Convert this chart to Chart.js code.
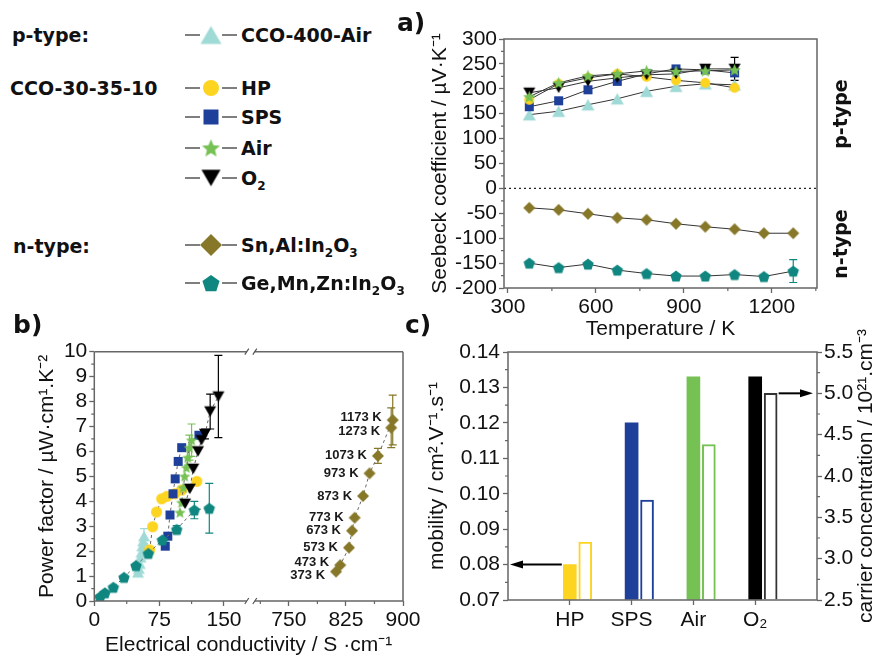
<!DOCTYPE html>
<html>
<head>
<meta charset="utf-8">
<title>Seebeck coefficient, power factor, mobility</title>
<script src="https://cdn.jsdelivr.net/npm/chart.js@4.4.1/dist/chart.umd.min.js"></script>
<style>
  html, body { margin:0; padding:0; background:#fff; }
  #fig { position:relative; width:877px; height:660px; overflow:hidden; background:#fff; }
  #fig canvas.chart { position:absolute; }
  .t { position:absolute; white-space:nowrap; line-height:1; color:#111; transform:translateY(-50%); }
  .b { font-family:"DejaVu Sans", Verdana, sans-serif; font-weight:bold; font-size:19px; }
  .panel { font-family:"DejaVu Sans", Verdana, sans-serif; font-weight:bold; font-size:25px; }
  .rot { transform:translate(-50%,-50%) rotate(-90deg); }
  sub { font-size:12px; vertical-align:-5px; line-height:0; }
  canvas.sym { position:absolute; }
</style>
</head>
<body>
<div id="fig">
  <canvas id="cA" class="chart" width="497" height="330" style="left:380px;top:20px"></canvas>
  <canvas id="cB" class="chart" width="430" height="330" style="left:0px;top:330px"></canvas>
  <canvas id="cC" class="chart" width="457" height="340" style="left:420px;top:320px"></canvas>
</div>
<script>
// ================= DATA =================
// panel a: Seebeck coefficient (µV/K) vs temperature (K)
const tempK = [373, 473, 573, 673, 773, 873, 973, 1073, 1173, 1273];
const seebeckCCO400 = [148, 155, 168, 180, 195, 205, 210, 208];
const seebeckHP     = [178, 210, 222, 230, 224, 217, 212, 202];
const seebeckSPS    = [164, 176, 198, 215, 230, 240, 238, 232];
const seebeckAir    = [184, 212, 226, 230, 236, 235, 236, 238];
const seebeckO2     = [192, 202, 215, 222, 228, 230, 240, 240];
const seebeckSnAl   = [-39, -43, -51, -59, -63, -71, -77, -82, -90, -90];
const seebeckGeMnZn = [-150, -159, -152, -164, -171, -176, -176, -173, -177, -166];
const seebeckErrO2     = [0, 0, 0, 0, 0, 0, 0, 23];
const seebeckErrGeMnZn = [0, 0, 0, 0, 0, 0, 0, 0, 0, 23];

// panel b: power factor (µW cm^-1 K^-2) vs electrical conductivity (S/cm)
const condCCO400 = [50.5, 51.5, 52.5, 53.5, 54.5, 55.5, 56.5, 57.5];
const pfCCO400   = [1.15, 1.3, 1.5, 1.75, 1.95, 2.2, 2.4, 2.6];
const pfErrCCO400 = [0, 0, 0, 0, 0, 0, 0, 0.3];
const condHP = [64, 67.5, 72, 78, 84, 93, 101, 118.5];
const pfHP   = [2.05, 2.98, 3.57, 4.1, 4.2, 4.3, 4.45, 4.8];
const condSPS = [82, 85, 87.5, 91, 93.5, 97, 101, 121];
const pfSPS   = [2.2, 2.6, 3.45, 4.3, 4.9, 5.6, 6.15, 6.65];
const condAir = [99, 101, 103, 104.5, 106.5, 108, 110, 112.5];
const pfAir   = [3.55, 3.95, 4.55, 5.0, 5.35, 5.75, 6.15, 6.45];
const pfErrAir = [0, 0, 0, 0, 0, 0.3, 0.5, 0.65];
const condO2 = [105, 110.5, 114.5, 120, 124, 128, 134, 143.5];
const pfO2   = [3.9, 4.5, 5.3, 6.0, 6.45, 6.7, 7.6, 8.2];
const pfErrO2 = [0, 0, 0, 0, 0, 0.2, 0.7, 1.65];
const condSnAl = [812, 817.5, 829, 833, 836.5, 847.5, 856, 867, 886.5, 884.5];
const pfSnAl   = [1.18, 1.44, 2.14, 2.82, 3.34, 4.21, 5.12, 5.82, 7.26, 6.95];
const pfErrSnAl = [0, 0, 0, 0, 0, 0, 0, 0.3, 1.0, 0.8];
const condGeMnZn = [6.6, 12.3, 22, 34.3, 48.2, 62.5, 78.7, 95.3, 115.7, 133];
const pfGeMnZn   = [0.17, 0.33, 0.55, 0.95, 1.42, 1.91, 2.45, 2.87, 3.65, 3.72];
const pfErrGeMnZn = [0, 0, 0, 0, 0, 0, 0, 0.15, 0.35, 1.0];

// panel c: mobility (left) and carrier concentration (right)
const samplesC  = ['HP', 'SPS', 'Air', 'O₂'];
const mobilityC = [0.080, 0.120, 0.133, 0.133];
const carrierC  = [3.20, 3.71, 4.38, 5.00];

// tick labels
const ticksAx = [300, 600, 900, 1200];
const ticksAy = [-200, -150, -100, -50, 0, 50, 100, 150, 200, 250, 300];
const ticksBx1 = [0, 75, 150];
const ticksBx2 = [750, 825, 900];
const ticksBy = [0, 1, 2, 3, 4, 5, 6, 7, 8, 9, 10];
const ticksCyL = [0.07, 0.08, 0.09, 0.10, 0.11, 0.12, 0.13, 0.14];
const ticksCyR = [2.5, 3.0, 3.5, 4.0, 4.5, 5.0, 5.5];

// ================= STYLE =================
const COL = { cyan:'#9fdad6', yellow:'#fdd420', blue:'#1e3f9a', green:'#76c154',
              black:'#000000', olive:'#877829', teal:'#0f8780', axis:'#666666' };
const FONT = "'Liberation Sans', Arial, Helvetica, sans-serif";
Chart.defaults.font.family = FONT;
Chart.defaults.font.size = 21;
Chart.defaults.color = '#111';

function marker(shape, color, size) {
  const s = Math.ceil(size) + 2;
  const c = document.createElement('canvas');
  c.width = s; c.height = s;
  const g = c.getContext('2d');
  const cx = s / 2, cy = s / 2, r = size / 2;
  g.fillStyle = color;
  g.beginPath();
  if (shape === 'circle') g.arc(cx, cy, r, 0, Math.PI * 2);
  else if (shape === 'square') g.rect(cx - r, cy - r, 2 * r, 2 * r);
  else if (shape === 'triangle') { const h = r * 0.866; g.moveTo(cx, cy - h); g.lineTo(cx + r, cy + h); g.lineTo(cx - r, cy + h); }
  else if (shape === 'tridown') { const h = r * 0.866; g.moveTo(cx, cy + h); g.lineTo(cx + r, cy - h); g.lineTo(cx - r, cy - h); }
  else if (shape === 'diamond') { g.moveTo(cx, cy - r); g.lineTo(cx + r, cy); g.lineTo(cx, cy + r); g.lineTo(cx - r, cy); }
  else if (shape === 'pentagon') {
    for (let i = 0; i < 5; i++) { const a = -Math.PI / 2 + i * 2 * Math.PI / 5;
      const px = cx + r * Math.cos(a), py = cy + r * Math.sin(a) + r * 0.1; i ? g.lineTo(px, py) : g.moveTo(px, py); }
  } else if (shape === 'star') {
    for (let i = 0; i < 10; i++) { const a = -Math.PI / 2 + i * Math.PI / 5; const rr = i % 2 ? r * 0.45 : r;
      const px = cx + rr * Math.cos(a), py = cy + rr * Math.sin(a) + r * 0.08; i ? g.lineTo(px, py) : g.moveTo(px, py); }
  }
  g.closePath(); g.fill();
  return c;
}

function series(label, xs, ys, shape, color, size, extra) {
  return Object.assign({
    label, data: ys.map((y, i) => ({ x: xs[i], y })),
    showLine: true, borderColor: '#333', borderWidth: 1, tension: 0,
    pointStyle: marker(shape, color, size), pointRadius: size / 2, pointHoverRadius: size / 2,
    backgroundColor: color
  }, extra || {});
}

function axis(o) {
  const horiz = o.pos === 'bottom' || o.pos === 'top';
  const a = {
    type: 'linear', position: o.pos, min: o.min, max: o.max, offset: false,
    afterBuildTicks: s => { s.ticks = o.ticks.map(v => ({ value: v })); },
    afterFit: s => { if (horiz) s.height = o.fixed; else s.width = o.fixed; },
    ticks: { autoSkip: false, maxRotation: 0, minRotation: 0, padding: o.pad ?? 2, color: '#111',
             font: { size: 21 }, callback: (v, i) => o.fmt(v, i) },
    grid: { display: true, drawOnChartArea: false, drawTicks: true, tickLength: 5,
            tickColor: COL.axis, tickWidth: 1.3, color: COL.axis, offset: false },
    border: { display: false },
    title: o.title ? { display: true, text: o.title, padding: 0, font: { size: 21 }, color: '#111' } : { display: false }
  };
  if (o.stack) { a.stack = o.stack; a.stackWeight = o.weight; }
  return a;
}

function minorVals(major) {
  const out = [];
  for (let i = 0; i < major.length - 1; i++) out.push((major[i] + major[i + 1]) / 2);
  return out;
}

function drawMinor(ctx, chart, scaleId, vals, side) {
  const s = chart.scales[scaleId], ca = chart.chartArea, len = 3;
  ctx.save(); ctx.strokeStyle = COL.axis; ctx.lineWidth = 1.2; ctx.beginPath();
  vals.forEach(v => {
    if (v < s.min || v > s.max) return;
    const p = s.getPixelForValue(v);
    if (side === 'bottom') { ctx.moveTo(p, ca.bottom); ctx.lineTo(p, ca.bottom + len); }
    else if (side === 'left') { ctx.moveTo(ca.left - len, p); ctx.lineTo(ca.left, p); }
    else { ctx.moveTo(ca.right, p); ctx.lineTo(ca.right + len, p); }
  });
  ctx.stroke(); ctx.restore();
}

function drawErrors(chart, list) {
  const ctx = chart.ctx;
  list.forEach(e => {
    const meta = chart.getDatasetMeta(e.ds);
    const xs = chart.scales[meta.xAxisID], ys = chart.scales[meta.yAxisID];
    const data = chart.data.datasets[e.ds].data;
    ctx.save(); ctx.strokeStyle = e.color; ctx.lineWidth = 1.2; ctx.beginPath();
    e.err.forEach((er, i) => {
      if (!er) return;
      const p = data[i], px = xs.getPixelForValue(p.x);
      const y1 = ys.getPixelForValue(p.y + er), y2 = ys.getPixelForValue(p.y - er);
      ctx.moveTo(px, y1); ctx.lineTo(px, y2);
      ctx.moveTo(px - 4, y1); ctx.lineTo(px + 4, y1);
      ctx.moveTo(px - 4, y2); ctx.lineTo(px + 4, y2);
    });
    ctx.stroke(); ctx.restore();
  });
}

function frame(ctx, ca, gapX) {
  ctx.save(); ctx.strokeStyle = COL.axis; ctx.lineWidth = 1.5; ctx.beginPath();
  if (gapX == null) { ctx.rect(ca.left, ca.top, ca.right - ca.left, ca.bottom - ca.top); }
  else {
    [ca.top, ca.bottom].forEach(y => {
      ctx.moveTo(ca.left, y); ctx.lineTo(gapX - 4, y);
      ctx.moveTo(gapX + 4, y); ctx.lineTo(ca.right, y);
    });
    ctx.moveTo(ca.left, ca.top); ctx.lineTo(ca.left, ca.bottom);
    ctx.moveTo(ca.right, ca.top); ctx.lineTo(ca.right, ca.bottom);
  }
  ctx.stroke();
  if (gapX != null) {
    ctx.lineWidth = 1.2; ctx.strokeStyle = '#555'; ctx.beginPath();
    [ca.top, ca.bottom].forEach(y => {
      ctx.moveTo(gapX - 6, y + 3); ctx.lineTo(gapX - 2, y - 3);
      ctx.moveTo(gapX + 2, y + 3); ctx.lineTo(gapX + 6, y - 3);
    });
    ctx.stroke();
  }
  ctx.restore();
}

function arrow(ctx, x0, y, x1) {
  const dir = Math.sign(x1 - x0), head = 13, hw = 4;
  ctx.save(); ctx.strokeStyle = '#000'; ctx.fillStyle = '#000'; ctx.lineWidth = 2;
  ctx.beginPath(); ctx.moveTo(x0, y); ctx.lineTo(x1 - dir * head, y); ctx.stroke();
  ctx.beginPath(); ctx.moveTo(x1, y); ctx.lineTo(x1 - dir * head, y - hw); ctx.lineTo(x1 - dir * head, y + hw);
  ctx.closePath(); ctx.fill(); ctx.restore();
}

const baseOpts = {
  animation: false, responsive: false, maintainAspectRatio: false, events: [],
  plugins: { legend: { display: false }, tooltip: { enabled: false } }
};

// ================= PANEL A =================
const dsA = [
  series('Air', tempK, seebeckAir, 'star', COL.green, 13),
  series('O2', tempK, seebeckO2, 'tridown', COL.black, 12),
  series('HP', tempK, seebeckHP, 'circle', COL.yellow, 10),
  series('SPS', tempK, seebeckSPS, 'square', COL.blue, 9),
  series('CCO-400-Air', tempK, seebeckCCO400, 'triangle', COL.cyan, 13),
  series('Sn,Al:In2O3', tempK, seebeckSnAl, 'diamond', COL.olive, 12),
  series('Ge,Mn,Zn:In2O3', tempK, seebeckGeMnZn, 'pentagon', COL.teal, 12)
];
new Chart(document.getElementById('cA'), {
  type: 'scatter',
  data: { datasets: dsA },
  options: Object.assign({}, baseOpts, {
    layout: { padding: { left: 48, right: 60, top: 19, bottom: 8 } },
    scales: {
      x: axis({ min: 286.7, max: 1354, ticks: ticksAx, fmt: v => String(v), pos: 'bottom', fixed: 54,
                title: 'Temperature / K' }),
      y: axis({ min: -200, max: 300, ticks: ticksAy, fmt: v => String(v), pos: 'left', fixed: 76,
                title: 'Seebeck coefficient / µV·K⁻¹' })
    }
  }),
  plugins: [{
    id: 'decorA',
    beforeDatasetsDraw(chart) {
      const ctx = chart.ctx, ca = chart.chartArea, y0 = chart.scales.y.getPixelForValue(0);
      ctx.save(); ctx.strokeStyle = '#222'; ctx.lineWidth = 1.2; ctx.setLineDash([2, 3]);
      ctx.beginPath(); ctx.moveTo(ca.left, y0); ctx.lineTo(ca.right, y0); ctx.stroke(); ctx.restore();
      drawErrors(chart, [{ ds: 1, err: seebeckErrO2, color: COL.black }, { ds: 6, err: seebeckErrGeMnZn, color: COL.teal }]);
    },
    afterDraw(chart) {
      const ctx = chart.ctx;
      frame(ctx, chart.chartArea);
      drawMinor(ctx, chart, 'x', [450, 750, 1050, 1350], 'bottom');
      drawMinor(ctx, chart, 'y', minorVals(ticksAy), 'left');
    }
  }]
});

// ================= PANEL B =================
function lineB(xid) { return { xAxisID: xid, yAxisID: 'y', borderDash: [3, 3], borderColor: '#666', borderWidth: 1 }; }
const dsB = [
  series('O2', condO2, pfO2, 'tridown', COL.black, 12, lineB('x1')),
  series('Air', condAir, pfAir, 'star', COL.green, 12, lineB('x1')),
  series('Ge,Mn,Zn:In2O3', condGeMnZn, pfGeMnZn, 'pentagon', COL.teal, 12, lineB('x1')),
  series('SPS', condSPS, pfSPS, 'square', COL.blue, 9, lineB('x1')),
  series('HP', condHP, pfHP, 'circle', COL.yellow, 11, lineB('x1')),
  series('CCO-400-Air', condCCO400, pfCCO400, 'triangle', COL.cyan, 12, lineB('x1')),
  series('Sn,Al:In2O3', condSnAl, pfSnAl, 'diamond', COL.olive, 12, lineB('x2'))
];
new Chart(document.getElementById('cB'), {
  type: 'scatter',
  data: { datasets: dsB },
  options: Object.assign({}, baseOpts, {
    layout: { padding: { left: 35, right: 27, top: 21.7, bottom: 0 } },
    scales: {
      x1: axis({ min: 0, max: 181, ticks: ticksBx1, fmt: v => String(v), pos: 'bottom', fixed: 59,
                 stack: 'bx', weight: 156.5 }),
      x2: axis({ min: 700, max: 900, ticks: ticksBx2, fmt: v => String(v), pos: 'bottom', fixed: 59,
                 stack: 'bx', weight: 152.2 }),
      y: axis({ min: 0, max: 10, ticks: ticksBy, fmt: v => String(v), pos: 'left', fixed: 59.3,
                title: 'Power factor / µW·cm¹.K⁻²' })
    }
  }),
  plugins: [{
    id: 'decorB',
    beforeDatasetsDraw(chart) {
      drawErrors(chart, [
        { ds: 0, err: pfErrO2, color: COL.black }, { ds: 1, err: pfErrAir, color: COL.green },
        { ds: 2, err: pfErrGeMnZn, color: COL.teal }, { ds: 5, err: pfErrCCO400, color: COL.cyan },
        { ds: 6, err: pfErrSnAl, color: COL.olive }]);
    },
    afterDraw(chart) {
      const ctx = chart.ctx, ca = chart.chartArea;
      frame(ctx, ca, chart.scales.x1.right);
      drawMinor(ctx, chart, 'x1', [37.5, 112.5], 'bottom');
      drawMinor(ctx, chart, 'x2', [712.5, 787.5, 862.5], 'bottom');
      drawMinor(ctx, chart, 'y', minorVals(ticksBy), 'left');
      // x title
      ctx.save(); ctx.fillStyle = '#111'; ctx.font = '21px ' + FONT; ctx.textAlign = 'center'; ctx.textBaseline = 'middle';
      ctx.fillText('Electrical conductivity / S ·cm⁻¹', (ca.left + ca.right) / 2, 315);
      // temperature labels for Sn,Al:In2O3
      const meta = chart.getDatasetMeta(6);
      ctx.font = 'bold 13px ' + FONT; ctx.textAlign = 'right'; ctx.fillStyle = '#1a1a1a';
      const dy = [4, -3, 0, 0, 0, 0, 0, 0, -3, 4];
      meta.data.forEach((pt, i) => {
        ctx.fillText(tempK[i] + ' K', pt.x - 11, pt.y + dy[i]);
      });
      ctx.restore();
    }
  }]
});

// ================= PANEL C =================
const barCols = [COL.yellow, COL.blue, COL.green, COL.black];
const hollowCols = [COL.yellow, COL.blue, COL.green, '#333'];
new Chart(document.getElementById('cC'), {
  type: 'bar',
  data: { datasets: [
    { label: 'mobility', data: mobilityC.map((v, i) => ({ x: i + 1, y: v })), yAxisID: 'y',
      backgroundColor: barCols, borderWidth: 0, barThickness: 13, grouped: false, base: 0.07 },
    { label: 'carrier concentration', data: carrierC.map((v, i) => ({ x: i + 1.25, y: v })), yAxisID: 'y2',
      backgroundColor: '#ffffff', borderColor: hollowCols, borderWidth: 2, barThickness: 13, grouped: false, base: 2.5 }
  ] },
  options: Object.assign({}, baseOpts, {
    layout: { padding: { left: 4.4, right: 0, top: 32, bottom: 0 } },
    scales: {
      x: axis({ min: 0, max: 5, ticks: samplesC.map((_, i) => i + 1), fmt: (v, i) => samplesC[i],
                pos: 'bottom', fixed: 60, pad: 3 }),
      y: axis({ min: 0.07, max: 0.14, ticks: ticksCyL, fmt: v => v.toFixed(2), pos: 'left', fixed: 83.6,
                pad: 3, title: 'mobility / cm².V⁻¹.s⁻¹' }),
      y2: axis({ min: 2.5, max: 5.5, ticks: ticksCyR, fmt: v => v.toFixed(1), pos: 'right', fixed: 60, pad: 2 })
    }
  }),
  plugins: [{
    id: 'decorC',
    afterDraw(chart) {
      const ctx = chart.ctx, ca = chart.chartArea, sx = chart.scales.x;
      frame(ctx, ca);
      drawMinor(ctx, chart, 'y', minorVals(ticksCyL), 'left');
      drawMinor(ctx, chart, 'y2', minorVals(ticksCyR), 'right');
      const yL = chart.scales.y.getPixelForValue(mobilityC[0]);
      arrow(ctx, sx.getPixelForValue(1) - 8, yL, ca.left + 2);
      const yR = chart.scales.y2.getPixelForValue(carrierC[3]);
      arrow(ctx, sx.getPixelForValue(4.25) + 8, yR, ca.right - 4);
      ctx.save(); ctx.fillStyle = '#111'; ctx.font = '21px ' + FONT; ctx.textAlign = 'center'; ctx.textBaseline = 'middle';
      ctx.translate(446, (ca.top + ca.bottom) / 2); ctx.rotate(-Math.PI / 2);
      ctx.fillText('carrier concentration / 10²¹.cm⁻³', 0, 0);
      ctx.restore();
    }
  }]
});

// ================= LEGEND & LABELS =================
const fig = document.getElementById('fig');
function addText(html, x, y, cls) {
  const d = document.createElement('div'); d.className = 't ' + cls; d.innerHTML = html;
  d.style.left = x + 'px'; d.style.top = y + 'px'; fig.appendChild(d); return d;
}
addText('p-type:', 12, 35, 'b');
addText('CCO-30-35-10', 10, 88, 'b');
addText('n-type:', 13, 246, 'b');
const legendItems = [
  { html: 'CCO-400-Air', shape: 'triangle', color: COL.cyan, size: 21, y: 35 },
  { html: 'HP', shape: 'circle', color: COL.yellow, size: 16, y: 88 },
  { html: 'SPS', shape: 'square', color: COL.blue, size: 15, y: 117 },
  { html: 'Air', shape: 'star', color: COL.green, size: 19, y: 148 },
  { html: 'O<sub>2</sub>', shape: 'tridown', color: COL.black, size: 19, y: 178 },
  { html: 'Sn,Al:In<sub>2</sub>O<sub>3</sub>', shape: 'diamond', color: COL.olive, size: 22, y: 245 },
  { html: 'Ge,Mn,Zn:In<sub>2</sub>O<sub>3</sub>', shape: 'pentagon', color: COL.teal, size: 18, y: 283 }
];
legendItems.forEach(it => {
  const c = document.createElement('canvas'); c.className = 'sym'; c.width = 56; c.height = 26;
  c.style.left = '183px'; c.style.top = (it.y - 13) + 'px';
  const g = c.getContext('2d');
  g.strokeStyle = '#555'; g.lineWidth = 1.5; g.beginPath();
  g.moveTo(2, 13); g.lineTo(17, 13); g.moveTo(39, 13); g.lineTo(54, 13); g.stroke();
  const m = marker(it.shape, it.color, it.size);
  g.drawImage(m, 28 - m.width / 2, 13 - m.height / 2);
  fig.appendChild(c);
  addText(it.html, 241, it.y, 'b');
});
addText('a)', 397, 22, 'panel');
addText('b)', 13, 324, 'panel');
addText('c)', 405, 324, 'panel');
addText('p-type', 840, 114, 'b rot');
addText('n-type', 840, 244, 'b rot');
</script>
</body>
</html>
